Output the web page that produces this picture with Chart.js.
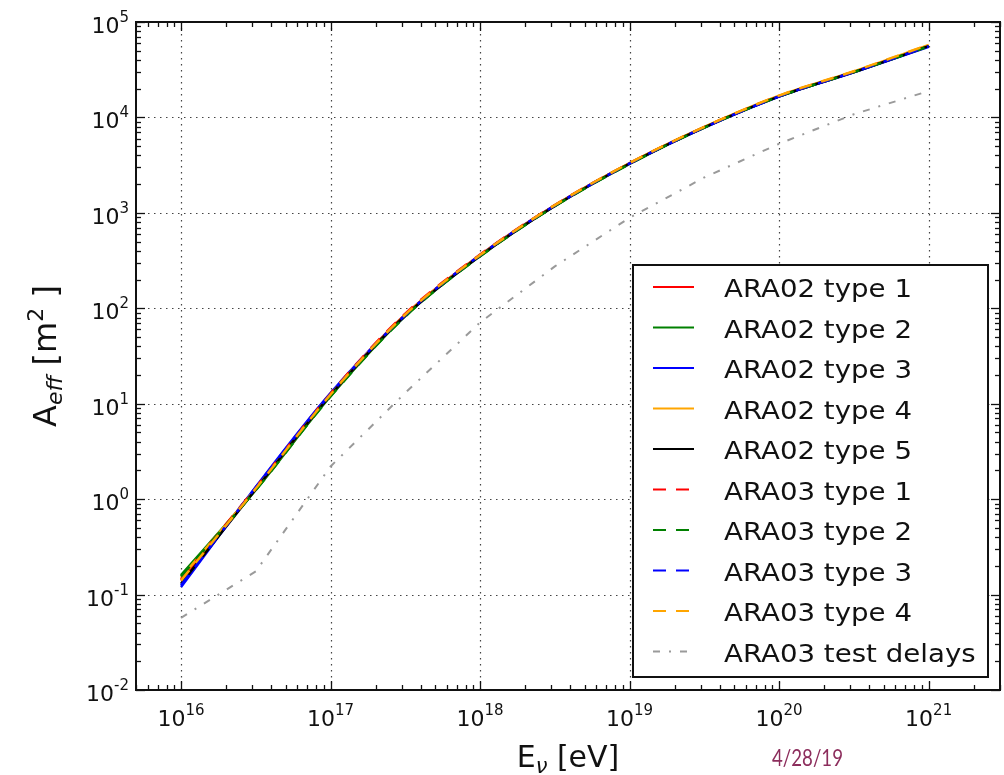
<!DOCTYPE html>
<html>
<head>
<meta charset="utf-8">
<script src="https://cdn.jsdelivr.net/npm/chart.js@4.4.1/dist/chart.umd.min.js"></script>
<style>
  html, body { margin: 0; padding: 0; background: #fff; }
  #wrap { width: 1004px; height: 775px; }
</style>
</head>
<body>
<div id="wrap"><canvas id="aeff" width="1004" height="775"></canvas></div>
<script>
// Energies (eV), half-decade steps
const energies = [1e16, 3.162e16, 1e17, 3.162e17, 1e18, 3.162e18, 1e19, 3.162e19, 1e20, 3.162e20, 1e21];

// Effective area in m^2 for each trigger type
const ara02Type1 = [0.140, 1.30, 12.6, 86, 362, 1200, 3300, 7900, 16700, 30000, 56000];
const ara02Type2 = [0.160, 1.25, 12.0, 83, 352, 1180, 3260, 7850, 16600, 29800, 55500];
const ara02Type3 = [0.120, 1.34, 12.9, 84, 357, 1190, 3280, 7800, 16500, 29700, 55000];
const ara02Type4 = [0.150, 1.28, 12.4, 85, 358, 1195, 3320, 7950, 16900, 30400, 57500];
const ara02Type5 = [0.130, 1.27, 12.3, 84, 355, 1185, 3290, 7880, 16650, 29900, 55800];
const ara03Type1 = [0.145, 1.32, 12.8, 88, 365, 1210, 3310, 7920, 16750, 30100, 56200];
const ara03Type2 = [0.155, 1.24, 11.9, 82, 350, 1175, 3250, 7830, 16550, 29850, 55600];
const ara03Type3 = [0.125, 1.33, 12.7, 85, 360, 1195, 3300, 7870, 16600, 29950, 55700];
const ara03Type4 = [0.140, 1.29, 12.5, 86, 361, 1205, 3330, 7980, 16950, 30500, 57800];
const ara03TestDelays = [0.057, 0.175, 2.2, 13, 71, 275, 890, 2350, 5300, 10800, 18900];

const seriesLabels = [
  "ARA02 type 1", "ARA02 type 2", "ARA02 type 3", "ARA02 type 4", "ARA02 type 5",
  "ARA03 type 1", "ARA03 type 2", "ARA03 type 3", "ARA03 type 4", "ARA03 test delays"
];
const seriesValues = [
  ara02Type1, ara02Type2, ara02Type3, ara02Type4, ara02Type5,
  ara03Type1, ara03Type2, ara03Type3, ara03Type4, ara03TestDelays
];

// axis decades
const xDecades = [16, 17, 18, 19, 20, 21];
const yDecades = [-2, -1, 0, 1, 2, 3, 4, 5];

// line styles
const SOLID = [], DASHED = [13, 10], DASHDOT = [7, 9, 2, 9];
const seriesColors = ['#ff0000', '#008000', '#0000ff', '#ffa500', '#000000',
                      '#ff0000', '#008000', '#0000ff', '#ffa500', '#9a9a9a'];
const seriesDash = [SOLID, SOLID, SOLID, SOLID, SOLID, DASHED, DASHED, DASHED, DASHED, DASHDOT];

const FONT = '"DejaVu Sans", "Bitstream Vera Sans", sans-serif';
const INK = '#111';

// draw text made of runs (sub/superscripts, italics) starting at x or centred on it
function drawRuns(ctx, runs, x, y, align) {
  let total = 0;
  runs.forEach(r => {
    ctx.font = (r.italic ? 'italic ' : '') + r.size + 'px ' + FONT;
    r.w = ctx.measureText(r.text).width;
    total += r.w;
  });
  let cx = align === 'center' ? x - total / 2 : align === 'right' ? x - total : x;
  ctx.textAlign = 'left';
  ctx.textBaseline = 'alphabetic';
  runs.forEach(r => {
    ctx.font = (r.italic ? 'italic ' : '') + r.size + 'px ' + FONT;
    ctx.fillText(r.text, cx, y + (r.dy || 0));
    cx += r.w;
  });
}

function powerRuns(exp) {
  return [
    { text: '10', size: 22 },
    { text: String(exp), size: 15, dy: -11 }
  ];
}

const gridPlugin = {
  id: 'decadeGrid',
  beforeDatasetsDraw(chart) {
    const { ctx, chartArea: a, scales: { x, y } } = chart;
    ctx.save();
    ctx.strokeStyle = '#444';
    ctx.lineWidth = 1.2;
    ctx.setLineDash([1.5, 4.5]);
    xDecades.forEach(e => {
      const px = Math.round(x.getPixelForValue(Math.pow(10, e))) + 0.5;
      ctx.beginPath(); ctx.moveTo(px, a.top); ctx.lineTo(px, a.bottom); ctx.stroke();
    });
    yDecades.forEach(e => {
      const py = Math.round(y.getPixelForValue(Math.pow(10, e))) + 0.5;
      ctx.beginPath(); ctx.moveTo(a.left, py); ctx.lineTo(a.right, py); ctx.stroke();
    });
    ctx.restore();
  }
};

const framePlugin = {
  id: 'frameAndLabels',
  afterDatasetsDraw(chart) {
    const { ctx, chartArea: a, scales: { x, y } } = chart;
    ctx.save();
    ctx.setLineDash([]);
    ctx.strokeStyle = '#111';

    // inward ticks on all four sides
    ctx.lineWidth = 1.3;
    const tick = (x0, y0, x1, y1) => { ctx.beginPath(); ctx.moveTo(x0, y0); ctx.lineTo(x1, y1); ctx.stroke(); };
    for (let e = 15; e <= 21; e++) {
      for (let m = 1; m <= 9; m++) {
        const v = m * Math.pow(10, e);
        if (v < x.min || v > x.max) continue;
        const len = m === 1 ? 9 : 5;
        const px = Math.round(x.getPixelForValue(v)) + 0.5;
        tick(px, a.bottom, px, a.bottom - len);
        tick(px, a.top, px, a.top + len);
      }
    }
    for (let e = -2; e <= 5; e++) {
      for (let m = 1; m <= 9; m++) {
        const v = m * Math.pow(10, e);
        if (v < y.min || v > y.max) continue;
        const len = m === 1 ? 9 : 5;
        const py = Math.round(y.getPixelForValue(v)) + 0.5;
        tick(a.left, py, a.left + len, py);
        tick(a.right, py, a.right - len, py);
      }
    }

    // axes frame
    ctx.lineWidth = 2;
    ctx.strokeRect(a.left, a.top, a.right - a.left, a.bottom - a.top);

    // tick labels
    ctx.fillStyle = INK;
    xDecades.forEach(e => {
      const px = x.getPixelForValue(Math.pow(10, e));
      drawRuns(ctx, powerRuns(e), px, 726, 'center');
    });
    yDecades.forEach(e => {
      const py = y.getPixelForValue(Math.pow(10, e));
      drawRuns(ctx, powerRuns(e), 129, py + 11, 'right');
    });

    // axis titles
    drawRuns(ctx, [
      { text: 'E', size: 30 },
      { text: 'ν', size: 21, dy: 6, italic: true },
      { text: ' [eV]', size: 30 }
    ], (a.left + a.right) / 2, 767, 'center');

    ctx.save();
    ctx.translate(56, (a.top + a.bottom) / 2);
    ctx.rotate(-Math.PI / 2);
    drawRuns(ctx, [
      { text: 'A', size: 32 },
      { text: 'eff', size: 22, dy: 6, italic: true },
      { text: ' [m', size: 32 },
      { text: '2', size: 22, dy: -13 },
      { text: ' ]', size: 32 }
    ], 0, 0, 'center');
    ctx.restore();

    // legend box
    const lx = 633, ly = 265, lw = 355, lh = 412;
    ctx.fillStyle = '#fff';
    ctx.fillRect(lx, ly, lw, lh);
    ctx.lineWidth = 2;
    ctx.strokeStyle = '#111';
    ctx.strokeRect(lx, ly, lw, lh);
    ctx.font = '25px ' + FONT;
    const stretch = 188 / ctx.measureText(seriesLabels[0]).width;
    seriesLabels.forEach((label, i) => {
      const ry = 287 + i * 40.5;
      ctx.strokeStyle = seriesColors[i];
      ctx.lineWidth = 2;
      ctx.setLineDash(seriesDash[i]);
      ctx.beginPath(); ctx.moveTo(653, ry); ctx.lineTo(694, ry); ctx.stroke();
      ctx.setLineDash([]);
      ctx.fillStyle = INK;
      ctx.textAlign = 'left';
      ctx.textBaseline = 'alphabetic';
      ctx.save();
      ctx.translate(724, ry + 10);
      ctx.scale(stretch, 1);
      ctx.fillText(label, 0, 0);
      ctx.restore();
    });

    // date stamp
    ctx.fillStyle = '#8c2d5c';
    ctx.font = '24px Lato, "Open Sans", sans-serif';
    const dw = ctx.measureText('4/28/19').width;
    ctx.save();
    ctx.translate(772, 766);
    ctx.scale(71 / dw, 1);
    ctx.fillText('4/28/19', 0, 0);
    ctx.restore();

    ctx.restore();
  }
};

const datasets = seriesValues.map((vals, i) => ({
  label: seriesLabels[i],
  data: energies.map((e, k) => ({ x: e, y: vals[k] })),
  borderColor: seriesColors[i],
  backgroundColor: seriesColors[i],
  borderWidth: i === 9 ? 2 : 2.5,
  borderDash: seriesDash[i],
  borderCapStyle: 'butt',
  pointRadius: 0,
  // the trigger curves are smooth; the delay curve keeps its straight segments
  cubicInterpolationMode: i === 9 ? 'default' : 'monotone',
  tension: 0,
  fill: false,
  order: 20 - i   // later series sit on top
}));

new Chart(document.getElementById('aeff').getContext('2d'), {
  type: 'line',
  data: { datasets },
  options: {
    responsive: false,
    devicePixelRatio: 1,
    animation: false,
    layout: { padding: { left: 136, top: 22, right: 4, bottom: 85 } },
    scales: {
      x: { type: 'logarithmic', min: 5e15, max: 3e21, display: false },
      y: { type: 'logarithmic', min: 1e-2, max: 1e5, display: false }
    },
    plugins: {
      legend: { display: false },
      tooltip: { enabled: false }
    }
  },
  plugins: [gridPlugin, framePlugin]
});
</script>
</body>
</html>
